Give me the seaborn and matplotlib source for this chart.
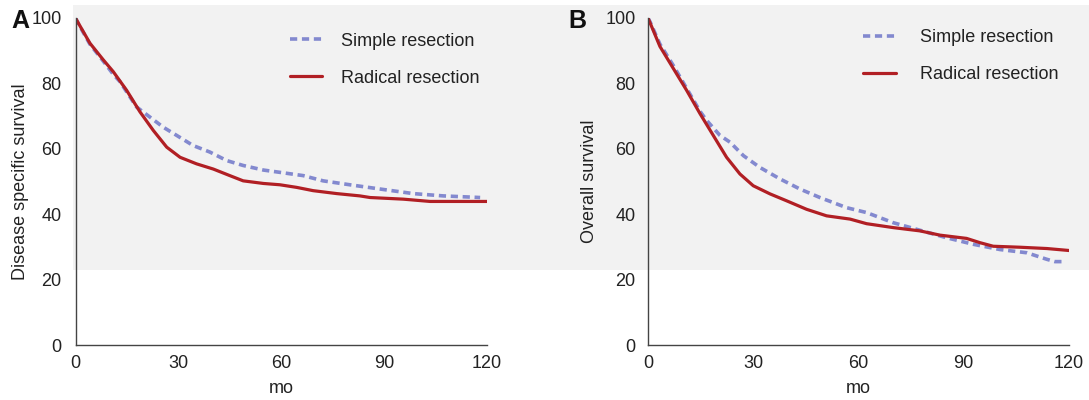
import matplotlib
matplotlib.use("Agg")
import matplotlib.pyplot as plt
from matplotlib.patches import Rectangle
import seaborn as sns
import pandas as pd

# DATA
xTicks = [0, 30, 60, 90, 120]
yTicks = [0, 20, 40, 60, 80, 100]
seriesNames = ['Simple resection', 'Radical resection']

# panel A - disease specific survival
aSimpleT = [0, 0.8, 4.2, 8.1, 11, 13, 17.8, 21.7, 25.6, 29.5, 34.3, 39.2, 44.1, 48.9, 54.8,
            59.6, 66.4, 72.2, 80, 88.8, 98.5, 107.2, 118]
aSimpleV = [100, 98.3, 92, 86.8, 82.8, 80.5, 72.8, 69.7, 66.6, 64.1, 61.0, 59.0, 56.4, 54.9, 53.5,
            52.8, 51.8, 50.2, 49.0, 47.7, 46.3, 45.6, 45.1]
aRadicalT = [0, 0.8, 4.2, 8.1, 11, 14.9, 18.8, 22.7, 26.6, 30.5, 35.3, 40.2, 45, 48.9, 54.8,
             59.6, 64.5, 69.3, 76.2, 82.9, 85.9, 95.6, 103.4, 120]
aRadicalV = [100, 98.5, 92.3, 87.2, 83.6, 77.9, 71.3, 65.6, 60.5, 57.4, 55.4, 53.8, 51.8, 50.2, 49.4,
             49.0, 48.2, 47.2, 46.3, 45.6, 45.1, 44.6, 43.9, 43.9]

# panel B - overall survival
bSimpleT = [0, 0.6, 3.4, 7.2, 11, 14.8, 16.7, 20.5, 23.4, 27.2, 31.9, 37.6, 43.3, 49.0, 56.6,
            62.3, 69.9, 77.5, 85.1, 92.7, 100.3, 108, 113.7, 116, 118]
bSimpleV = [100, 98.8, 92, 85.5, 78.5, 71.5, 68.7, 64.1, 62.0, 57.9, 54.3, 50.8, 47.7, 45.1, 42.0,
            40.5, 37.4, 35.1, 32.8, 30.8, 29.2, 28.2, 26.2, 25.5, 25.5]
bRadicalT = [0, 0.6, 3.4, 7.2, 11, 14.8, 18.6, 22.4, 26.2, 30, 34.8, 39.5, 45.2, 50.9, 57.6,
             62.3, 69.9, 77.5, 83.2, 90.8, 94.6, 98.4, 106, 113.7, 120]
bRadicalV = [100, 98.5, 91.3, 84.6, 77.9, 70.8, 64.1, 57.4, 52.3, 48.7, 46.2, 44.1, 41.5, 39.5, 38.5,
             37.1, 35.9, 34.9, 33.6, 32.6, 31.3, 30.2, 29.9, 29.5, 28.9]

#STYLE
sns.set_theme(style='white')
plt.rcParams['font.family'] = ['Liberation Sans', 'DejaVu Sans']
plt.rcParams['font.size'] = 13
textColor = '#222222'
spineColor = '#444444'
blue = '#8389cf'
red = '#b11f24'

fig = plt.figure(figsize=(10.89, 4.0), dpi=100)
# light gray band behind the upper part of both panels
fig.add_artist(Rectangle((73 / 1089, 1 - 269.5 / 400), 1 - 73 / 1089, (269.5 - 5) / 400,
                         transform=fig.transFigure, facecolor='#f2f2f2', edgecolor='none', zorder=0))

axA = fig.add_axes([75.5 / 1089, 1 - 345 / 400, 411.5 / 1089, 327 / 400])
axB = fig.add_axes([648 / 1089, 1 - 345 / 400, 421 / 1089, 327 / 400])

panels = [
    (axA, aSimpleT, aSimpleV, aRadicalT, aRadicalV, 'Disease specific survival', 'A', 'out', 0.521, 1.05, 0.955),
    (axB, bSimpleT, bSimpleV, bRadicalT, bRadicalV, 'Overall survival', 'B', 'in', 0.511, 1.35, 0.965),
]

for ax, sT, sV, rT, rV, ylab, letter, ytickDir, legX, textPad, legY in panels:
    ax.set_facecolor('none')
    dfS = pd.DataFrame({'mo': sT, 'surv': sV})
    dfR = pd.DataFrame({'mo': rT, 'surv': rV})
    sns.lineplot(data=dfS, x='mo', y='surv', ax=ax, color=blue, lw=2.6,
                 linestyle=(0, (2.0, 1.3)), estimator=None, sort=False, label=seriesNames[0])
    sns.lineplot(data=dfR, x='mo', y='surv', ax=ax, color=red, lw=2.3,
                 estimator=None, sort=False, label=seriesNames[1])

    ax.set_xlim(0, 120)
    ax.set_ylim(0, 100)
    ax.set_xticks(xTicks)
    ax.set_yticks(yTicks)
    ax.set_xlabel('mo', color=textColor, fontsize=13, labelpad=6)
    ax.set_ylabel(ylab, color=textColor, fontsize=13, labelpad=2 if ytickDir == 'out' else 5)

    for side in ['top', 'right']:
        ax.spines[side].set_visible(False)
    for side in ['left', 'bottom']:
        ax.spines[side].set_color(spineColor)
        ax.spines[side].set_linewidth(1.0)

    ax.tick_params(axis='x', direction='in', length=6, width=1.0, color=spineColor,
                   labelsize=13, labelcolor=textColor, pad=7)
    ax.tick_params(axis='y', direction=ytickDir, length=5 if ytickDir == 'out' else 6, width=1.0,
                   color=spineColor, labelsize=13, labelcolor=textColor,
                   pad=5 if ytickDir == 'out' else 9)

    leg = ax.legend(loc='upper left', bbox_to_anchor=(legX, legY), frameon=False,
                    borderpad=0, borderaxespad=0, handlelength=1.8, handletextpad=textPad,
                    labelspacing=1.1, fontsize=13)
    for t in leg.get_texts():
        t.set_color(textColor)

    ax.text(-0.155 if letter == 'A' else -0.19, 0.99, letter, transform=ax.transAxes,
            fontsize=18, fontweight='bold', color='#111111', ha='left', va='center')

fig.savefig('out.png', dpi=100)
